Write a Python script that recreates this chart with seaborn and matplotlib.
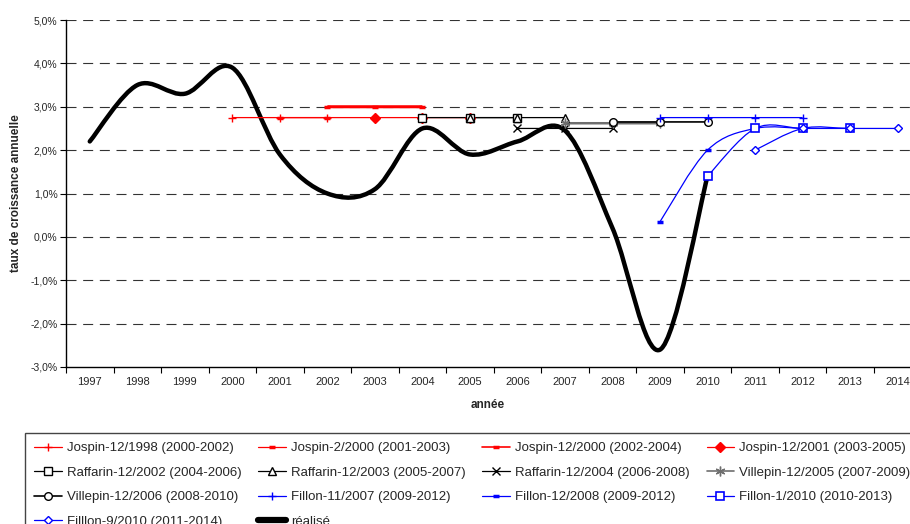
import numpy as np
import pandas as pd
import matplotlib
matplotlib.use("Agg")
import matplotlib.pyplot as plt
from matplotlib.path import Path
from matplotlib.patches import PathPatch
from matplotlib.lines import Line2D
from matplotlib.ticker import FixedLocator, FuncFormatter
import seaborn as sns

# ---------------- data ----------------
years_all = list(range(1997, 2015))

realise_years = list(range(1997, 2011))
realise_vals = [2.2, 3.5, 3.3, 3.9, 1.9, 1.0, 1.1, 2.5, 1.9, 2.2, 2.45, 0.2, -2.6, 1.4]

jospin_1998_years = [2000, 2001, 2002]
jospin_1998_vals = [2.75, 2.75, 2.75]
jospin_2000a_years = [2001, 2002, 2003]
jospin_2000a_vals = [2.75, 2.75, 2.75]
jospin_2000b_years = [2002, 2003, 2004]
jospin_2000b_vals = [3.0, 3.0, 3.0]
jospin_2001_years = [2003, 2004, 2005]
jospin_2001_vals = [2.75, 2.75, 2.75]
raffarin_2002_years = [2004, 2005, 2006]
raffarin_2002_vals = [2.75, 2.75, 2.75]
raffarin_2003_years = [2005, 2006, 2007]
raffarin_2003_vals = [2.75, 2.75, 2.75]
raffarin_2004_years = [2006, 2007, 2008]
raffarin_2004_vals = [2.5, 2.5, 2.5]
villepin_2005_years = [2007, 2008, 2009]
villepin_2005_vals = [2.62, 2.62, 2.62]
villepin_2006_years = [2008, 2009, 2010]
villepin_2006_vals = [2.65, 2.65, 2.65]
fillon_2007_years = [2009, 2010, 2011, 2012]
fillon_2007_vals = [2.75, 2.75, 2.75, 2.75]
fillon_2008_years = [2009, 2010, 2011, 2012]
fillon_2008_vals = [0.35, 2.0, 2.5, 2.5]
fillon_2010a_years = [2010, 2011, 2012, 2013]
fillon_2010a_vals = [1.4, 2.5, 2.5, 2.5]
fillon_2010b_years = [2011, 2012, 2013, 2014]
fillon_2010b_vals = [2.0, 2.5, 2.5, 2.5]

y_ticks = [-3, -2, -1, 0, 1, 2, 3, 4, 5]

# ---------------- style ----------------
sns.set_theme(style="white")
plt.rcParams['font.family'] = ['Liberation Sans', 'DejaVu Sans']

RED = "#FF0000"
BLUE = "#0000FF"
BLACK = "#000000"
GRAY = "#6E6E6E"

series = [
    # label, years, vals, color, lw, marker, ms, mfc, mew
    ("Jospin-12/1998 (2000-2002)", jospin_1998_years, jospin_1998_vals, RED, 0.9, "+", 6, RED, 1.0),
    ("Jospin-2/2000 (2001-2003)", jospin_2000a_years, jospin_2000a_vals, RED, 0.9, "_", 4.5, RED, 2.5),
    ("Jospin-12/2000 (2002-2004)", jospin_2000b_years, jospin_2000b_vals, RED, 2.2, "_", 4.5, RED, 2.5),
    ("Jospin-12/2001 (2003-2005)", jospin_2001_years, jospin_2001_vals, RED, 0.9, "D", 5, RED, 1.0),
    ("Raffarin-12/2002 (2004-2006)", raffarin_2002_years, raffarin_2002_vals, BLACK, 0.9, "s", 5.5, "white", 1.0),
    ("Raffarin-12/2003 (2005-2007)", raffarin_2003_years, raffarin_2003_vals, BLACK, 0.9, "^", 5.5, "white", 1.0),
    ("Raffarin-12/2004 (2006-2008)", raffarin_2004_years, raffarin_2004_vals, BLACK, 0.9, "x", 6, BLACK, 1.0),
    ("Villepin-12/2005 (2007-2009)", villepin_2005_years, villepin_2005_vals, GRAY, 1.8, (6, 2, 0), 7, BLACK, 1.0),
    ("Villepin-12/2006 (2008-2010)", villepin_2006_years, villepin_2006_vals, BLACK, 1.2, "o", 5.5, "white", 1.0),
    ("Fillon-11/2007 (2009-2012)", fillon_2007_years, fillon_2007_vals, BLUE, 0.9, "+", 6, BLUE, 1.0),
    ("Fillon-12/2008 (2009-2012)", fillon_2008_years, fillon_2008_vals, BLUE, 0.9, "_", 4.5, BLUE, 2.5),
    ("Fillon-1/2010 (2010-2013)", fillon_2010a_years, fillon_2010a_vals, BLUE, 0.9, "s", 5.5, "white", 1.2),
    ("Filllon-9/2010 (2011-2014)", fillon_2010b_years, fillon_2010b_vals, BLUE, 0.9, "D", 4.5, "white", 1.0),
]


def smooth_path(xs, ys):
    pts = np.column_stack([xs, ys]).astype(float)
    n = len(pts)
    verts = [pts[0]]
    codes = [Path.MOVETO]
    for i in range(n - 1):
        p0 = pts[i - 1] if i > 0 else pts[i]
        p1 = pts[i]
        p2 = pts[i + 1]
        p3 = pts[i + 2] if i + 2 < n else pts[i + 1]
        c1 = p1 + (p2 - p0) / 6.0
        c2 = p2 - (p3 - p1) / 6.0
        verts += [c1, c2, p2]
        codes += [Path.CURVE4] * 3
    return Path(verts, codes)


fig = plt.figure(figsize=(9.1, 5.24), dpi=100)
ax = fig.add_axes([66 / 910, 1 - 367 / 524, (910 - 66) / 910, (367 - 20) / 524])

ax.set_xlim(1996.5, 2014.26)
ax.set_ylim(-3, 5)

# grid lines
for yv in y_ticks[1:]:
    ax.axhline(yv, color="#333333", lw=0.8, ls=(0, (9, 6)), zorder=0.5)

# réalisé
ax.add_patch(PathPatch(smooth_path(realise_years, realise_vals), fill=False,
                       edgecolor=BLACK, lw=3.2, capstyle='round', joinstyle='round', zorder=2))

handles = []
for k, (label, yrs, vals, col, lw, mk, ms, mfc, mew) in enumerate(series):
    ax.add_patch(PathPatch(smooth_path(yrs, vals), fill=False, edgecolor=col, lw=lw, zorder=3 + k * 0.01))
    df = pd.DataFrame({"annee": yrs, "taux": vals})
    sns.lineplot(data=df, x="annee", y="taux", ax=ax, linestyle="", marker=mk, markersize=ms,
                 color=col, markerfacecolor=mfc, markeredgecolor=col, markeredgewidth=mew,
                 zorder=4 + k * 0.01, legend=False)
    handles.append(Line2D([], [], color=col, lw=min(lw, 1.2), marker=mk, markersize=ms,
                          markerfacecolor=mfc, markeredgecolor=col, markeredgewidth=mew, label=label))
handles.append(Line2D([], [], color=BLACK, lw=4.5, label="réalisé"))

# axes styling
for s in ["top", "right"]:
    ax.spines[s].set_visible(False)
ax.spines["left"].set_color(BLACK)
ax.spines["bottom"].set_color(BLACK)
ax.spines["left"].set_linewidth(1.0)
ax.spines["bottom"].set_linewidth(1.0)

ax.yaxis.set_major_locator(FixedLocator(y_ticks))
ax.yaxis.set_major_formatter(FuncFormatter(lambda v, p: f"{v:.1f}%".replace(".", ",")))
ax.tick_params(axis="y", which="major", length=4, width=0.8, color=BLACK, direction="out",
               labelsize=7.5, pad=2, left=True)

ax.xaxis.set_major_locator(FixedLocator(years_all))
ax.xaxis.set_major_formatter(FuncFormatter(lambda v, p: f"{int(round(v))}"))
ax.xaxis.set_minor_locator(FixedLocator([y + 0.5 for y in range(1996, 2014)]))
ax.tick_params(axis="x", which="major", length=0, labelsize=8, pad=7)
ax.tick_params(axis="x", which="minor", length=4, width=0.8, color=BLACK, direction="out", bottom=True)

ax.set_xlabel("année", fontsize=8.5, fontweight="bold", labelpad=9)
ax.set_ylabel("taux de croissance annuelle", fontsize=8.5, fontweight="bold", labelpad=6)

# legend: reorder so rows read left-to-right
order = [0, 4, 8, 12, 1, 5, 9, 13, 2, 6, 10, 3, 7, 11]
leg_handles = [handles[i] for i in order]
leg = fig.legend(handles=leg_handles, loc="upper left", bbox_to_anchor=(25 / 910, 1 - 433 / 524),
                 bbox_transform=fig.transFigure, ncol=4, fontsize=9.5, frameon=True, fancybox=False,
                 edgecolor="#444444", framealpha=1, borderaxespad=0, borderpad=0.7,
                 handlelength=2.1, handletextpad=0.35, columnspacing=1.3, labelspacing=0.92)
leg.get_frame().set_linewidth(1.0)

fig.savefig("out.png", dpi=100)
